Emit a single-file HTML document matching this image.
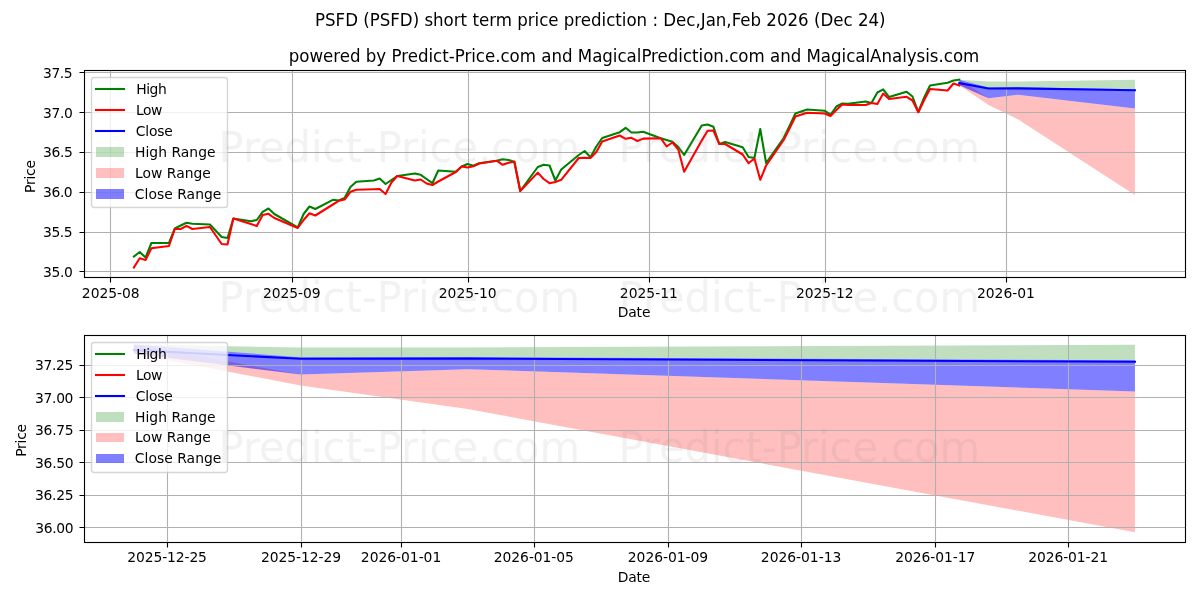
<!DOCTYPE html>
<html lang="en">
<head>
<meta charset="utf-8">
<title>PSFD (PSFD) short term price prediction</title>
<style>
html,body{margin:0;padding:0;background:#fff;}
body{width:1200px;height:600px;overflow:hidden;}
svg{display:block;}
svg text{font-family:"DejaVu Sans", "Liberation Sans", sans-serif;fill:#000;}
.t10{font-size:13.889px;}
.t12{font-size:16.667px;}
.wm{font-size:41.667px;fill:#808080;fill-opacity:0.1;}
.grid{stroke:#b0b0b0;stroke-width:1.111;fill:none;}
.tick{stroke:#000;stroke-width:1.111;fill:none;}
.spine{stroke:#000;stroke-width:1.111;fill:none;stroke-linecap:square;stroke-linejoin:miter;}
.ln{fill:none;stroke-width:2.083;stroke-linejoin:round;stroke-linecap:square;}
</style>
</head>
<body>
<svg width="1200" height="600" viewBox="0 0 1200 600">
<rect x="0" y="0" width="1200" height="600" fill="#ffffff"/>
<clipPath id="ca1"><rect x="83.78" y="70.33" width="1101.22" height="206.56"/></clipPath>
<g clip-path="url(#ca1)">
<polygon points="959.31,79.72 988.58,81.53 1017.86,81.47 1134.94,79.78 1134.94,89.33 1017.86,87.36 988.58,87.49 959.31,79.72" fill="#008000" fill-opacity="0.25"/>
<polygon points="959.31,79.72 988.58,98.17 1017.86,94.85 1134.94,108.55 1134.94,195.02 1017.86,119.29 988.58,104.92 959.31,85.21" fill="#ff0000" fill-opacity="0.25"/>
<polygon points="959.31,79.72 988.58,87.49 1017.86,87.36 1134.94,89.33 1134.94,108.55 1017.86,94.85 988.58,98.17 959.31,85.21" fill="#0000ff" fill-opacity="0.5"/>
<path class="grid" d="M110.5 70.33V276.89M292.5 70.33V276.89M468.5 70.33V276.89M649.5 70.33V276.89M825.5 70.33V276.89M1006.5 70.33V276.89M83.78 271.5H1185M83.78 232.5H1185M83.78 192.5H1185M83.78 152.5H1185M83.78 112.5H1185M83.78 72.5H1185"/>
<polyline class="ln" stroke="#008000" points="133.83,256.5 139.69,252 145.54,257.5 151.4,243 168.96,243 174.81,228.5 180.67,225.5 186.52,222.8 192.38,223.7 209.94,224.5 215.8,230.7 221.65,237 227.5,238 233.36,218.5 250.92,221.2 256.78,220 262.63,211.8 268.49,208.5 274.34,214 297.76,227.5 303.61,214 309.47,206.5 315.32,209 332.88,199.8 338.74,200.5 344.59,198 350.45,187 356.3,181.8 373.87,180.5 379.72,178.5 385.57,184 391.43,180 397.28,176 414.85,173.5 420.7,174.8 426.56,179 432.41,183.2 438.26,170.5 455.83,171.8 461.68,166.5 467.54,164 473.39,165.8 479.25,163.2 496.81,160.7 502.66,159.3 508.52,160 514.37,161.7 520.23,191 537.79,167 543.64,164.8 549.5,165.5 555.35,180.5 561.21,169.5 578.77,155 584.63,151 590.48,157.2 596.33,146.5 602.19,138 619.75,132.2 625.61,127.8 631.46,132.5 637.32,132.5 643.17,131.8 660.73,138.2 666.59,140 672.44,141.8 678.3,147 684.15,155 701.72,125.5 707.57,124.5 713.42,126.8 719.28,144 725.13,142 742.7,147.2 748.55,157 754.41,158 760.26,129 766.11,163 783.68,138 789.53,126 795.39,113.5 807.1,109.5 824.66,110.7 830.51,114.8 836.37,106.5 842.22,103.5 848.08,103.8 865.64,101.5 871.49,103 877.35,92.5 883.2,89.4 889.06,97.1 906.62,91.8 912.48,96.5 918.33,112 924.18,97.5 930.04,85.5 947.6,82.8 953.46,80.5 959.31,79.72"/>
<polyline class="ln" stroke="#ff0000" points="133.83,267.5 139.69,258.3 145.54,260 151.4,248.3 168.96,246 174.81,229 180.67,229 186.52,225.8 192.38,229 209.94,227 215.8,235.5 221.65,244 227.5,244.5 233.36,218.5 250.92,224 256.78,226 262.63,215 268.49,213.8 274.34,218 297.76,228 303.61,220 309.47,213.2 315.32,215.5 332.88,204.5 338.74,200.8 344.59,199.5 350.45,191.8 356.3,189.8 373.87,189.2 379.72,189 385.57,194 391.43,182.5 397.28,176 414.85,180.5 420.7,179.5 426.56,183.5 432.41,185 438.26,181.5 455.83,172 461.68,166.5 467.54,167.5 473.39,166.2 479.25,163.5 496.81,160.7 502.66,164.8 508.52,162.8 514.37,161.7 520.23,191 537.79,172.6 543.64,179 549.5,183.2 555.35,182 561.21,179.8 578.77,158 584.63,157.8 590.48,158 596.33,152 602.19,141.5 619.75,135.5 625.61,138.8 631.46,137.8 637.32,141 643.17,138.6 660.73,138.2 666.59,146.5 672.44,142.5 678.3,149.5 684.15,171.8 701.72,140.6 707.57,130.8 713.42,130.5 719.28,144 725.13,144 742.7,154.5 748.55,163.2 754.41,158.5 760.26,179.8 766.11,165.5 783.68,140 789.53,128.5 795.39,116.5 807.1,112.8 824.66,113.5 830.51,116 836.37,110 842.22,104.5 848.08,105 865.64,105 871.49,103 877.35,104 883.2,93.6 889.06,99 906.62,96.8 912.48,100.5 918.33,112.2 924.18,100 930.04,89 947.6,90.5 953.46,83.5 959.31,85.5"/>
<polyline class="ln" stroke="#0000ff" points="959.31,83.06 988.58,88.47 1017.86,88.35 1134.94,90.31"/>
</g>
<path class="tick" d="M110.5 277.5v5M292.5 277.5v5M468.5 277.5v5M649.5 277.5v5M825.5 277.5v5M1006.5 277.5v5M84.5 271.5h-5M84.5 232.5h-5M84.5 192.5h-5M84.5 152.5h-5M84.5 112.5h-5M84.5 72.5h-5"/>
<rect class="spine" x="84.5" y="70.5" width="1101" height="207"/>
<clipPath id="ca2"><rect x="83.78" y="335.17" width="1101.22" height="206.56"/></clipPath>
<g clip-path="url(#ca2)">
<polygon points="133.83,344.56 300.69,347.5 467.54,347.4 1134.94,344.66 1134.94,360.2 467.54,357 300.69,357.2 133.83,344.56" fill="#008000" fill-opacity="0.25"/>
<polygon points="133.83,344.56 300.69,374.6 467.54,369.2 1134.94,391.5 1134.94,532.33 467.54,409 300.69,385.6 133.83,353.5" fill="#ff0000" fill-opacity="0.25"/>
<polygon points="133.83,344.56 300.69,357.2 467.54,357 1134.94,360.2 1134.94,391.5 467.54,369.2 300.69,374.6 133.83,353.5" fill="#0000ff" fill-opacity="0.5"/>
<path class="grid" d="M167.5 335.17V541.72M301.5 335.17V541.72M401.5 335.17V541.72M534.5 335.17V541.72M668.5 335.17V541.72M801.5 335.17V541.72M935.5 335.17V541.72M1068.5 335.17V541.72M83.78 527.5H1185M83.78 495.5H1185M83.78 462.5H1185M83.78 430.5H1185M83.78 397.5H1185M83.78 365.5H1185"/>
<polyline class="ln" stroke="#0000ff" points="133.83,350 300.69,358.8 467.54,358.6 1134.94,361.8"/>
</g>
<path class="tick" d="M167.5 542.5v5M301.5 542.5v5M401.5 542.5v5M534.5 542.5v5M668.5 542.5v5M801.5 542.5v5M935.5 542.5v5M1068.5 542.5v5M84.5 527.5h-5M84.5 495.5h-5M84.5 462.5h-5M84.5 430.5h-5M84.5 397.5h-5M84.5 365.5h-5"/>
<rect class="spine" x="84.5" y="335.5" width="1101" height="207"/>
<text class="t12" x="315.02" y="26" textLength="570.55" lengthAdjust="spacing" transform="translate(315.02 26) scale(1 1.1) translate(-315.02 -26)">PSFD (PSFD) short term price prediction : Dec,Jan,Feb 2026 (Dec 24)</text>
<text class="t12" x="288.8" y="62" textLength="690.55" lengthAdjust="spacing" transform="translate(288.8 62) scale(1 1.1) translate(-288.8 -62)">powered by Predict-Price.com and MagicalPrediction.com and MagicalAnalysis.com</text>
<text class="t10" x="81.87" y="297.61" textLength="57.63" lengthAdjust="spacing">2025-08</text>
<text class="t10" x="263" y="297.61" textLength="57.52" lengthAdjust="spacing">2025-09</text>
<text class="t10" x="438.83" y="297.61" textLength="57.77" lengthAdjust="spacing">2025-10</text>
<text class="t10" x="619.84" y="297.61" textLength="57.99" lengthAdjust="spacing">2025-11</text>
<text class="t10" x="795.9" y="297.61" textLength="57.7" lengthAdjust="spacing">2025-12</text>
<text class="t10" x="976.97" y="297.61" textLength="57.91" lengthAdjust="spacing">2026-01</text>
<text class="t10" x="43.09" y="276.9" textLength="29.67" lengthAdjust="spacing">35.0</text>
<text class="t10" x="43.07" y="237.08" textLength="29.57" lengthAdjust="spacing">35.5</text>
<text class="t10" x="43.08" y="197.25" textLength="29.62" lengthAdjust="spacing">36.0</text>
<text class="t10" x="43.06" y="157.43" textLength="29.87" lengthAdjust="spacing">36.5</text>
<text class="t10" x="43.07" y="117.6" textLength="29.71" lengthAdjust="spacing">37.0</text>
<text class="t10" x="43" y="77.77" textLength="29.66" lengthAdjust="spacing">37.5</text>
<text class="t10" x="617.7" y="317.17" textLength="32.73" lengthAdjust="spacing">Date</text>
<text class="t10" x="34.75" y="192.95" textLength="32.94" lengthAdjust="spacing" transform="rotate(-90 34.75 192.95)">Price</text>
<text class="t10" x="127.27" y="562.44" textLength="79.65" lengthAdjust="spacing">2025-12-25</text>
<text class="t10" x="260.89" y="562.44" textLength="80.21" lengthAdjust="spacing">2025-12-29</text>
<text class="t10" x="360.84" y="562.44" textLength="80.41" lengthAdjust="spacing">2026-01-01</text>
<text class="t10" x="493.82" y="562.44" textLength="80.08" lengthAdjust="spacing">2026-01-05</text>
<text class="t10" x="627.83" y="562.44" textLength="80.29" lengthAdjust="spacing">2026-01-09</text>
<text class="t10" x="760.84" y="562.44" textLength="80.45" lengthAdjust="spacing">2026-01-13</text>
<text class="t10" x="895.34" y="562.44" textLength="79.9" lengthAdjust="spacing">2026-01-17</text>
<text class="t10" x="1028.26" y="562.44" textLength="79.77" lengthAdjust="spacing">2026-01-21</text>
<text class="t10" x="35.14" y="532.51" textLength="38.46" lengthAdjust="spacing">36.00</text>
<text class="t10" x="35.07" y="500.08" textLength="38.49" lengthAdjust="spacing">36.25</text>
<text class="t10" x="35.07" y="467.65" textLength="38.59" lengthAdjust="spacing">36.50</text>
<text class="t10" x="35.06" y="435.22" textLength="38.6" lengthAdjust="spacing">36.75</text>
<text class="t10" x="35.05" y="402.79" textLength="38.4" lengthAdjust="spacing">37.00</text>
<text class="t10" x="35.1" y="370.36" textLength="38.28" lengthAdjust="spacing">37.25</text>
<text class="t10" x="617.7" y="582" textLength="32.7" lengthAdjust="spacing">Date</text>
<text class="t10" x="26" y="456.78" textLength="32.9" lengthAdjust="spacing" transform="rotate(-90 26 456.78)">Price</text>
<rect x="91.5" y="77.5" width="136" height="130" rx="2.78" ry="2.78" fill="#ffffff" stroke="#cccccc" stroke-width="1.389" opacity="0.8"/>
<path d="M96 89H124" stroke="#008000" stroke-width="2.083" stroke-linecap="square" fill="none"/>
<text class="t10" x="136.21" y="93.83" textLength="30.54" lengthAdjust="spacing">High</text>
<path d="M96 110H124" stroke="#ff0000" stroke-width="2.083" stroke-linecap="square" fill="none"/>
<text class="t10" x="136.12" y="114.78" textLength="26.24" lengthAdjust="spacing">Low</text>
<path d="M96 131H124" stroke="#0000ff" stroke-width="2.083" stroke-linecap="square" fill="none"/>
<text class="t10" x="135.83" y="135.72" textLength="36.99" lengthAdjust="spacing">Close</text>
<rect x="96" y="147" width="28" height="10" fill="#008000" fill-opacity="0.25"/>
<text class="t10" x="134.95" y="156.67" textLength="80.56" lengthAdjust="spacing">High Range</text>
<rect x="96" y="168" width="28" height="10" fill="#ff0000" fill-opacity="0.25"/>
<text class="t10" x="134.99" y="177.61" textLength="75.92" lengthAdjust="spacing">Low Range</text>
<rect x="96" y="189" width="28" height="10" fill="#0000ff" fill-opacity="0.5"/>
<text class="t10" x="134.83" y="198.56" textLength="86.51" lengthAdjust="spacing">Close Range</text>
<rect x="91.5" y="342.5" width="136" height="130" rx="2.78" ry="2.78" fill="#ffffff" stroke="#cccccc" stroke-width="1.389" opacity="0.8"/>
<path d="M96 354H124" stroke="#008000" stroke-width="2.083" stroke-linecap="square" fill="none"/>
<text class="t10" x="136.21" y="358.67" textLength="30.54" lengthAdjust="spacing">High</text>
<path d="M96 375H124" stroke="#ff0000" stroke-width="2.083" stroke-linecap="square" fill="none"/>
<text class="t10" x="136.12" y="379.61" textLength="26.24" lengthAdjust="spacing">Low</text>
<path d="M96 396H124" stroke="#0000ff" stroke-width="2.083" stroke-linecap="square" fill="none"/>
<text class="t10" x="135.83" y="400.56" textLength="36.99" lengthAdjust="spacing">Close</text>
<rect x="96" y="412" width="28" height="10" fill="#008000" fill-opacity="0.25"/>
<text class="t10" x="134.95" y="421.5" textLength="80.56" lengthAdjust="spacing">High Range</text>
<rect x="96" y="433" width="28" height="9" fill="#ff0000" fill-opacity="0.25"/>
<text class="t10" x="134.99" y="442.44" textLength="75.92" lengthAdjust="spacing">Low Range</text>
<rect x="96" y="454" width="28" height="9" fill="#0000ff" fill-opacity="0.5"/>
<text class="t10" x="134.83" y="463.39" textLength="86.51" lengthAdjust="spacing">Close Range</text>
<text class="wm" x="218.56" y="162" textLength="361.5" lengthAdjust="spacing" transform="translate(218.56 162) scale(1 1.032) translate(-218.56 -162)">Predict-Price.com</text>
<text class="wm" x="218.56" y="312" textLength="361.5" lengthAdjust="spacing" transform="translate(218.56 312) scale(1 1.032) translate(-218.56 -312)">Predict-Price.com</text>
<text class="wm" x="218.56" y="462" textLength="361.5" lengthAdjust="spacing" transform="translate(218.56 462) scale(1 1.032) translate(-218.56 -462)">Predict-Price.com</text>
<text class="wm" x="618.56" y="162" textLength="361.5" lengthAdjust="spacing" transform="translate(618.56 162) scale(1 1.032) translate(-618.56 -162)">Predict-Price.com</text>
<text class="wm" x="618.56" y="312" textLength="361.5" lengthAdjust="spacing" transform="translate(618.56 312) scale(1 1.032) translate(-618.56 -312)">Predict-Price.com</text>
<text class="wm" x="618.56" y="462" textLength="361.5" lengthAdjust="spacing" transform="translate(618.56 462) scale(1 1.032) translate(-618.56 -462)">Predict-Price.com</text>
</svg>
</body>
</html>
